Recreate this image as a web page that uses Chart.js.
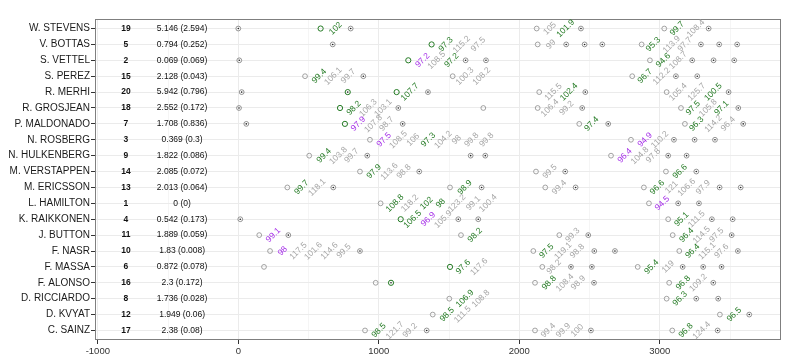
<!DOCTYPE html>
<html lang="en">
<head>
    <meta charset="UTF-8">
    <title>Race laps</title>
    <style>
        html, body { margin: 0; padding: 0; background: #fff; }
        .container { width: 800px; height: 364px; position: relative; }
    </style>
    <script src="https://cdn.jsdelivr.net/npm/chart.js"></script>
    <script>
        // rows, top to bottom
        const drivers = ['W. STEVENS', 'V. BOTTAS', 'S. VETTEL', 'S. PEREZ', 'R. MERHI', 'R. GROSJEAN',
            'P. MALDONADO', 'N. ROSBERG', 'N. HULKENBERG', 'M. VERSTAPPEN', 'M. ERICSSON', 'L. HAMILTON',
            'K. RAIKKONEN', 'J. BUTTON', 'F. NASR', 'F. MASSA', 'F. ALONSO', 'D. RICCIARDO', 'D. KVYAT', 'C. SAINZ'];
        const finishPos = [19, 5, 2, 15, 20, 18, 7, 3, 9, 14, 13, 1, 4, 11, 10, 6, 16, 8, 12, 17];
        const gapAvg = [5.146, 0.794, 0.069, 2.128, 5.942, 2.552, 1.708, 0.369, 1.822, 2.085, 2.013, 0,
            0.542, 1.889, 1.83, 0.872, 2.3, 1.736, 1.949, 2.38];
        const gapSd = [2.594, 0.252, 0.069, 0.043, 0.796, 0.172, 0.836, 0.3, 0.086, 0.072, 0.064, 0,
            0.173, 0.059, 0.008, 0.078, 0.172, 0.028, 0.06, 0.08];

        // [row, time]
        const openMarks = [
            [0, 2124], [0, 3032],
            [1, 2131], [1, 2871],
            [2, 2930],
            [3, 475], [3, 1526], [3, 2804],
            [4, 2142], [4, 3049],
            [5, 1744], [5, 2131], [5, 3151],
            [6, 2427], [6, 3179],
            [7, 937], [7, 2795],
            [8, 505], [8, 2653],
            [9, 866], [9, 2119], [9, 3044],
            [10, 349], [10, 1507], [10, 2185], [10, 2887],
            [11, 1013], [11, 2923],
            [12, 3060],
            [13, 149], [13, 1585], [13, 2285], [13, 3092],
            [14, 226], [14, 2100], [14, 3139],
            [15, 183], [15, 2164], [15, 2843],
            [16, 978], [16, 2112], [16, 3067],
            [17, 1502], [17, 3049],
            [18, 1384], [18, 3428],
            [19, 902], [19, 2112], [19, 3089]
        ];
        const dotMarks = [
            [0, 0], [0, 800], [0, 2439], [0, 3348],
            [1, 672], [1, 2334], [1, 2465], [1, 2591], [1, 3293], [1, 3423], [1, 3551],
            [2, 7], [2, 1618], [2, 1763], [2, 3231], [2, 3383], [2, 3530],
            [3, 890], [3, 3115], [3, 3267],
            [4, 24], [4, 1350], [4, 2470], [4, 3490],
            [5, 5], [5, 1139], [5, 2448], [5, 3559],
            [6, 57], [6, 1170], [6, 2633], [6, 3594],
            [7, 3101], [7, 3248], [7, 3393],
            [8, 918], [8, 1654], [8, 1758], [8, 3060], [8, 3191],
            [9, 1288], [9, 2327], [9, 3260],
            [10, 676], [10, 1732], [10, 2401], [10, 3426], [10, 3576],
            [11, 3131], [11, 3279],
            [12, 14], [12, 1566], [12, 1708], [12, 3371], [12, 3519],
            [13, 356], [13, 2491], [13, 3512],
            [14, 866], [14, 2534], [14, 2681], [14, 3556],
            [15, 2368], [15, 2517], [15, 3163], [15, 3309], [15, 3440],
            [16, 2532], [16, 3381],
            [17, 3260], [17, 3416],
            [18, 3637],
            [19, 1341], [19, 2510], [19, 3412]
        ];
        const greenOpenMarks = [[0, 586], [1, 1376], [2, 1210], [4, 1127], [5, 724], [6, 759],
            [12, 1156], [15, 1507]];
        const greenDotMarks = [[4, 779], [16, 1087]];

        // [row, time, lap time, kind]  kind: g = personal best, p = fastest, n = other
        const lapLabels = [
            [0, 693, 102, 'g'], [0, 2218, 105, 'n'], [0, 2330, 101.9, 'g'], [0, 3124, 99.7, 'g'], [0, 3257, 108.4, 'n'],
            [1, 1478, 97.3, 'g'], [1, 1590, 115.2, 'n'], [1, 1708, 97.5, 'n'], [1, 2226, 99, 'n'],
            [1, 2954, 95.3, 'g'], [1, 3085, 113.9, 'n'], [1, 3179, 97.7, 'n'],
            [2, 1312, 97.2, 'p'], [2, 1412, 108.5, 'n'], [2, 1519, 97.2, 'g'], [2, 3025, 94.6, 'g'], [2, 3131, 108.7, 'n'],
            [3, 576, 99.4, 'g'], [3, 676, 106.1, 'n'], [3, 783, 99.7, 'n'], [3, 1613, 100.3, 'n'], [3, 1732, 108.2, 'n'],
            [3, 2895, 96.7, 'g'], [3, 3013, 112.2, 'n'],
            [4, 1222, 107.7, 'g'], [4, 2242, 115.5, 'n'], [4, 2354, 102.4, 'g'], [4, 3131, 105.4, 'n'],
            [4, 3262, 125.7, 'n'], [4, 3381, 100.5, 'g'],
            [5, 823, 98.2, 'g'], [5, 925, 106.3, 'n'], [5, 1032, 103.1, 'n'], [5, 2218, 106.4, 'n'], [5, 2337, 99.2, 'n'],
            [5, 3238, 97.5, 'g'], [5, 3345, 105.8, 'n'], [5, 3440, 97.1, 'g'],
            [6, 854, 97.9, 'p'], [6, 961, 107.8, 'n'], [6, 1056, 98.7, 'n'], [6, 2515, 97.4, 'g'],
            [6, 3262, 96.3, 'g'], [6, 3381, 114.2, 'n'], [6, 3487, 96.4, 'n'],
            [7, 1037, 97.5, 'p'], [7, 1139, 108.5, 'n'], [7, 1245, 106, 'n'], [7, 1352, 97.3, 'g'], [7, 1459, 104.2, 'n'],
            [7, 1554, 98, 'n'], [7, 1661, 99.8, 'n'], [7, 1768, 99.8, 'n'], [7, 2895, 94.9, 'p'], [7, 3001, 110.2, 'n'],
            [8, 610, 99.4, 'g'], [8, 712, 103.8, 'n'], [8, 807, 99.7, 'n'], [8, 2752, 96.4, 'p'], [8, 2859, 104.8, 'n'],
            [8, 2954, 97.8, 'n'],
            [9, 966, 97.9, 'g'], [9, 1075, 113.6, 'n'], [9, 1179, 98.8, 'n'], [9, 2218, 99.5, 'n'], [9, 3144, 96.6, 'g'],
            [10, 451, 99.7, 'g'], [10, 562, 118.1, 'n'], [10, 1613, 98.9, 'g'], [10, 2285, 99.4, 'n'],
            [10, 2982, 96.6, 'g'], [10, 3085, 121, 'n'], [10, 3191, 106.6, 'n'], [10, 3309, 97.9, 'n'],
            [11, 1115, 108.8, 'g'], [11, 1222, 118.2, 'n'], [11, 1341, 102, 'g'], [11, 1440, 98, 'g'],
            [11, 1557, 123.2, 'n'], [11, 1673, 99.1, 'n'], [11, 1779, 100.4, 'n'], [11, 3018, 94.5, 'p'],
            [12, 1241, 106.5, 'g'], [12, 1352, 96.9, 'p'], [12, 1459, 105.9, 'n'], [12, 3156, 95.1, 'g'], [12, 3262, 111.5, 'n'],
            [13, 249, 99.1, 'p'], [13, 1685, 98.2, 'g'], [13, 2380, 99.3, 'n'], [13, 3191, 96.4, 'g'],
            [13, 3298, 114.5, 'n'], [13, 3405, 97.5, 'n'],
            [14, 316, 98, 'p'], [14, 427, 117.5, 'n'], [14, 534, 101.6, 'n'], [14, 648, 114.6, 'n'], [14, 752, 99.5, 'n'],
            [14, 2195, 97.5, 'g'], [14, 2313, 119.1, 'n'], [14, 2413, 98.8, 'n'], [14, 3234, 96.4, 'g'],
            [14, 3338, 115.1, 'n'], [14, 3440, 97.6, 'n'],
            [15, 1601, 97.6, 'g'], [15, 1715, 117.6, 'n'], [15, 2247, 98.2, 'n'], [15, 2942, 95.4, 'g'], [15, 3060, 119, 'n'],
            [16, 2213, 98.8, 'g'], [16, 2325, 108.4, 'n'], [16, 2420, 98.9, 'n'], [16, 3167, 96.8, 'g'], [16, 3274, 109.2, 'n'],
            [17, 1613, 106.9, 'g'], [17, 1727, 108.8, 'n'], [17, 3144, 96.3, 'g'],
            [18, 1487, 98.5, 'g'], [18, 1597, 111.5, 'n'], [18, 3530, 96.5, 'g'],
            [19, 1001, 98.5, 'g'], [19, 1115, 121.7, 'n'], [19, 1222, 99.2, 'n'], [19, 2206, 99.4, 'n'],
            [19, 2313, 99.9, 'n'], [19, 2413, 100, 'n'], [19, 3186, 96.8, 'g'], [19, 3298, 124.4, 'n']
        ];

        const xTicks = [-1000, -500, 0, 500, 1000, 1500, 2000, 2500, 3000, 3500];

        const labelColors = { g: '#237a23', p: '#a52ee8', n: '#a6a6a6' };

        function pts(list) {
            return list.map(m => ({ x: m[1], y: m[0] }));
        }

        // panel border, left-hand text columns and rotated lap labels
        const extras = {
            id: 'extras',
            afterDatasetsDraw(chart) {
                const { ctx, chartArea: a, scales: { x, y } } = chart;
                ctx.save();
                ctx.strokeStyle = '#7f7f7f';
                ctx.lineWidth = 1;
                ctx.strokeRect(a.left + 0.5, a.top + 0.5, a.right - a.left - 1, a.bottom - a.top - 1);

                ctx.fillStyle = '#111';
                ctx.textAlign = 'center';
                ctx.textBaseline = 'middle';
                drivers.forEach((d, i) => {
                    const py = y.getPixelForValue(i);
                    ctx.font = 'bold 8.5px "Liberation Sans", Arial, sans-serif';
                    ctx.fillText(String(finishPos[i]), x.getPixelForValue(-800), py);
                    ctx.font = '8.5px "Liberation Sans", Arial, sans-serif';
                    ctx.fillText(gapAvg[i] + ' (' + gapSd[i] + ')', x.getPixelForValue(-400), py);
                });

                ctx.font = '8.5px "Liberation Sans", Arial, sans-serif';
                lapLabels.forEach(l => {
                    ctx.save();
                    ctx.translate(x.getPixelForValue(l[1]), y.getPixelForValue(l[0]));
                    ctx.rotate(-Math.PI / 4);
                    ctx.fillStyle = labelColors[l[3]];
                    ctx.fillText(String(l[2]), 0, 0);
                    ctx.restore();
                });
                ctx.restore();
            }
        };

        window.onload = function() {
            const ctx = document.getElementById('chart').getContext('2d');
            new Chart(ctx, {
                type: 'scatter',
                data: {
                    datasets: [{
                        data: pts(openMarks),
                        pointRadius: 2.4,
                        borderWidth: 0.8,
                        borderColor: '#8c8c8c',
                        backgroundColor: 'rgba(0,0,0,0)'
                    }, {
                        data: pts(dotMarks),
                        pointRadius: 2.4,
                        borderWidth: 0.8,
                        borderColor: '#7a7a7a',
                        backgroundColor: 'rgba(0,0,0,0)'
                    }, {
                        data: pts(dotMarks),
                        pointRadius: 0.8,
                        borderWidth: 0,
                        backgroundColor: '#222'
                    }, {
                        data: pts(greenOpenMarks),
                        pointRadius: 2.6,
                        borderWidth: 1,
                        borderColor: '#237a23',
                        backgroundColor: 'rgba(0,0,0,0)'
                    }, {
                        data: pts(greenDotMarks),
                        pointRadius: 2.6,
                        borderWidth: 1,
                        borderColor: '#237a23',
                        backgroundColor: 'rgba(0,0,0,0)'
                    }, {
                        data: pts(greenDotMarks),
                        pointRadius: 0.8,
                        borderWidth: 0,
                        backgroundColor: '#222'
                    }]
                },
                options: {
                    responsive: true,
                    maintainAspectRatio: false,
                    animation: false,
                    events: [],
                    layout: { padding: { top: 19, right: 19, bottom: 0, left: 0 } },
                    plugins: { legend: { display: false }, tooltip: { enabled: false } },
                    scales: {
                        x: {
                            type: 'linear',
                            min: -1020,
                            max: 3863,
                            afterBuildTicks: s => { s.ticks = xTicks.map(v => ({ value: v })); },
                            afterFit: s => { s.height = 24; },
                            border: { display: false },
                            grid: {
                                color: c => (c.tick && c.tick.value % 1000 === 0) ? '#ebebeb' : '#f5f5f5',
                                lineWidth: 1,
                                tickLength: 4,
                                tickColor: c => (c.tick && c.tick.value % 1000 === 0) ? '#333' : 'rgba(0,0,0,0)'
                            },
                            ticks: {
                                autoSkip: false,
                                maxRotation: 0,
                                padding: 2,
                                color: '#333',
                                font: { family: '"Liberation Sans", Arial, sans-serif', size: 9.5 },
                                callback: v => (v % 1000 === 0) ? String(v) : ''
                            }
                        },
                        y: {
                            type: 'linear',
                            reverse: true,
                            min: -0.6,
                            max: 19.6,
                            afterBuildTicks: s => { s.ticks = drivers.map((d, i) => ({ value: i })); },
                            afterFit: s => { s.width = 95; },
                            border: { display: false },
                            grid: {
                                color: '#ebebeb',
                                lineWidth: 1,
                                tickLength: 4,
                                tickColor: '#333'
                            },
                            ticks: {
                                autoSkip: false,
                                padding: 1,
                                color: '#1a1a1a',
                                font: { family: '"Liberation Sans", Arial, sans-serif', size: 10 },
                                callback: v => drivers[v]
                            }
                        }
                    }
                },
                plugins: [extras]
            });
        };
    </script>
</head>
<body>
    <div class="container">
        <canvas id="chart"></canvas>
    </div>
</body>
</html>
